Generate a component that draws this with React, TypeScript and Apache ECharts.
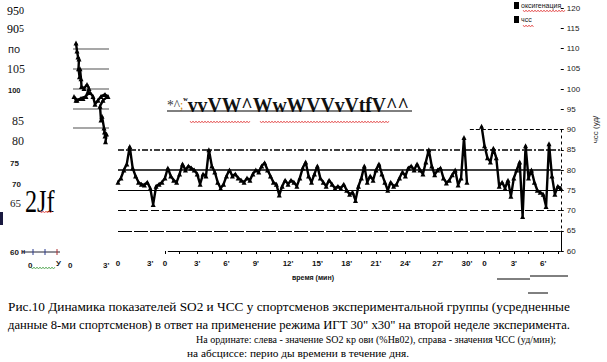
import { useEffect, useRef } from "react";
import * as echarts from "echarts";

// ЧСС (heart rate), one value per sample along the time axis
const hrValues: (number | null)[] = [
  77, 78, 80, 81.5, 85.8, 80.5, 78.5, 77, 76.5, 76.3,
  77, 75.5, 71.5, 76, 76.5, 77, 78, 80.5, 78.5, 77.5,
  77, 79, 81.5, 80, 81, 80.5, 80, 79, 76.5, 79,
  78.5, 85, 81, 79.5, 77, 75.5, 76.5, 78.5, 80, 78.5,
  79, 78, 77.5, 77, 78, 77.5, 79, 80, 79.5, 81,
  81.8, 80, 78.5, 77, 76.5, 73.8, 76, 77.5, 76.5, 77.5,
  77, 76, 78, 80.5, 82, 78.5, 77, 79, 81, 78,
  77, 76, 77.5, 76.5, 75.5, 76, 75.5, 76.5, 75, 74,
  74.5, 72.5, 76, 78, 81, 77, 78.5, 77.5, 80, 81.5,
  79, 77, 75, 77, 76, 76.5, 78, 79.5, 78.5, 80.5,
  81, 80, 81.5, 80, 79, 82, 85, 81, 78.8, 80,
  80.5, 78, 76.8, 77.5, 78.8, 80, 76.3, 78, 88, 77,
  null, null, null, null, 90.8, 86, 83, 82, 85.4, 83,
  76, 77, 75.5, 77.5, 73.5, 78, 80, 82, 68.5, 86,
  78, 80, 77, 75, 74.5, 74, 71, 86.5, 78.5, 74,
  76, 75.5,
];

// оксигенация (small inset trace, left)
const o2X = [3, 4, 5, 6, 5.5, 6.5, 7, 8, 8.5, 11, 14, 16, 13, 8, 3, 1, 4, 10, 17, 20, 22, 25, 28, 32, 35, 30, 27, 28, 29, 31, 31.5, 32, 33.5, 32.5];
const o2Y = [111.5, 109.5, 108, 107.5, 105, 103, 105, 102.5, 100.5, 100, 101, 100, 98, 97.5, 97, 98, 97, 97.5, 99, 98, 96, 97, 98, 98.5, 98, 97, 95.5, 92, 93, 90, 89, 88, 88.5, 86.5];

// x tick labels: [sample index, label]
const xTickLabels: [number, string][] = [
  [0, "0"], [11, "3'"], [16, "0"], [27, "3'"], [37, "6'"], [47, "9'"], [58, "12'"],
  [68, "15'"], [78, "18'"], [88, "21'"], [98, "24'"], [109, "27'"], [119, "30'"],
  [125, "0"], [135, "3'"], [145, "6'"],
];
const xTickMarks = [16, 21, 27, 32, 37, 42, 47, 52, 58, 63, 68, 73, 78, 83, 88, 93, 98, 103, 109, 114, 119, 125, 130, 135, 140, 145, 150];

// horizontal reference lines (уд/мин)
const refLines = [85, 80, 75, 70, 65];

// stray left-side labels in the scan
const leftLabels: [string, number, number, number, string, string][] = [
  ["по", 8, 49, 11, "Liberation Sans", "normal"],
  ["105", 7, 69, 12, "Liberation Serif", "normal"],
  ["100", 8, 90, 7.5, "Liberation Sans", "bold"],
  ["85", 12, 121, 12, "Liberation Serif", "normal"],
  ["80", 12, 141, 12, "Liberation Serif", "normal"],
  ["75", 10, 163, 8, "Liberation Sans", "bold"],
  ["70", 12, 184, 8, "Liberation Sans", "bold"],
  ["65", 10, 203, 11, "Liberation Serif", "normal"],
  ["60", 10, 252, 8, "Liberation Sans", "bold"],
  ["0", 28, 265, 8, "Liberation Sans", "bold"],
  ["У", 56, 263, 8, "Liberation Sans", "bold"],
  ["0", 68, 265, 8, "Liberation Sans", "bold"],
  ["3'", 103, 265, 8, "Liberation Sans", "bold"],
];

// caption: text, x, y, font size, horizontal scale
const captionLines: [string, number, number, number, number][] = [
  ["Рис.10 Динамика показателей SO2 и ЧСС у спортсменов экспериментальной группы (усредненные", 8, 306, 13.5, 0.985],
  ["данные 8-ми спортсменов) в ответ на применение режима ИГТ 30\" х30\" на второй неделе эксперимента.", 8, 324, 13.5, 0.935],
  ["На ординате: слева - значение SO2 кр ови (%Нв02), справа - значения ЧСС (уд/мин);", 196, 339, 10, 1],
  ["на абсциссе: перио ды времени в течение дня.", 187, 353, 11, 1.03],
];

function txt(text: string, x: number, y: number, o: any = {}) {
  return {
    type: "text", x, y, silent: true, z: 10, scaleX: o.sx ?? 1,
    style: {
      text, fill: o.fill ?? "#000", fontSize: o.size ?? 12,
      fontFamily: o.family ?? "Liberation Serif", fontWeight: o.weight ?? "normal",
      align: o.align ?? "left", verticalAlign: o.va ?? "middle", rich: o.rich,
    },
  };
}
function wave(x0: number, x1: number, y: number, color: string) {
  const pts: number[][] = [];
  let up = true;
  for (let x = x0; x <= x1; x += 1.5) { pts.push([x, y + (up ? -1 : 1)]); up = !up; }
  return { type: "polyline", silent: true, z: 10, shape: { points: pts }, style: { stroke: color, lineWidth: 0.7, fill: null } };
}
function seg(x1: number, y1: number, x2: number, y2: number, color = "#000", w = 1) {
  return { type: "line", silent: true, z: 10, shape: { x1, y1, x2, y2 }, style: { stroke: color, lineWidth: w } };
}

export default function App() {
  const ref = useRef<HTMLDivElement>(null);
  useEffect(() => {
    if (!ref.current) return;
    const chart = echarts.init(ref.current, null, { renderer: "svg" });
    const labelMap = new Map<number, string>(xTickLabels);
    const tickSet = new Set<number>(xTickMarks);
    const categories = hrValues.map((_, i) => String(i));
    const o2Data = o2X.map((x, i) => [x, o2Y[i]]);
    const last = hrValues.length - 1;

    const graphics: any[] = [
      txt("{a|95}{b|0}", 7, 11, { rich: { a: { fontSize: 12, fontFamily: "Liberation Serif" }, b: { fontSize: 10, fontFamily: "Liberation Serif", verticalAlign: "top" } } }),
      txt("{a|90}{b|5}", 7, 29, { rich: { a: { fontSize: 12, fontFamily: "Liberation Serif" }, b: { fontSize: 10, fontFamily: "Liberation Serif", verticalAlign: "top" } } }),
      ...leftLabels.map(([t, x, y, s, f, w]) => txt(t, x, y, { size: s, family: f, weight: w, fill: "#1a1a1a" })),
      txt("2Jf", 25, 201, { size: 31, sx: 0.78 }),
      { type: "rect", silent: true, shape: { x: 0, y: 212, width: 3, height: 13 }, style: { fill: "#1a1a40" } },
      seg(22, 252, 60, 252, "#223", 1),
      txt("н", 21, 251, { size: 7, family: "Liberation Sans", weight: "bold", fill: "#223" }),
      seg(33, 249, 33, 255, "#2a3a90", 1), seg(45, 249, 45, 255, "#2a3a90", 1), seg(57, 249, 57, 255, "#b03030", 1),
      wave(31, 56, 268, "#3a9a3a"),
      txt("{a|*^}{b|;}{c|ʷ}{d|vvVW^WwWVVvVtfV^^}", 167, 105, {
        sx: 0.96,
        rich: {
          a: { fontSize: 14, fontFamily: "Liberation Serif", fill: "#333" },
          b: { fontSize: 12, fontFamily: "Liberation Serif", fill: "#d08000" },
          c: { fontSize: 11, fontFamily: "Liberation Serif", fontWeight: "bold", verticalAlign: "top" },
          d: { fontSize: 20.5, fontFamily: "Liberation Serif", fontWeight: "bold", fill: "#111" },
        },
      }),
      seg(167, 111, 412, 111, "#000", 1),
      wave(190, 250, 122, "#e03030"),
      wave(260, 390, 122, "#e03030"),
      wave(40, 52, 212, "#e03030"),
      wave(523, 566, 11, "#e03030"),
      wave(523, 534, 26, "#e03030"),
      txt("время (мин)", 313, 277, { size: 7, family: "Liberation Sans", weight: "bold", align: "center", fill: "#111" }),
      seg(497, 279, 530, 279, "#000", 1), seg(530, 276, 568, 276, "#000", 1),
      seg(528, 293, 548, 293, "#000", 1),
      ...captionLines.map(([t, x, y, s, sx]) => txt(t, x, y, { size: s, sx })),
    ];

    chart.setOption({
      animation: false,
      backgroundColor: "#fff",
      legend: {
        data: ["оксигенация", "чсс"], orient: "vertical", left: 514, top: 2, padding: 0,
        icon: "rect", itemWidth: 5, itemHeight: 7, itemGap: 7,
        textStyle: { fontSize: 7, color: "#111", fontFamily: "Liberation Sans", padding: [0, 0, 0, -3] },
      },
      grid: [
        { left: 118, right: 35, top: 8, bottom: 111 },
        { left: 73, width: 36, top: 49, height: 79 },
      ],
      xAxis: [
        {
          type: "category", gridIndex: 0, data: categories, boundaryGap: false,
          axisLine: { show: false },
          axisTick: { show: true, length: 3, interval: (i: number) => tickSet.has(i), lineStyle: { color: "#000" } },
          axisLabel: {
            interval: (i: number) => labelMap.has(i),
            formatter: (_v: string, i: number) => labelMap.get(i) ?? "",
            fontSize: 8, fontWeight: "bold", color: "#111", fontFamily: "Liberation Sans", margin: 8,
          },
          splitLine: { show: false },
        },
        { type: "value", gridIndex: 1, min: 0, max: 36, show: false },
      ],
      yAxis: [
        {
          type: "value", gridIndex: 0, position: "right", min: 60, max: 120, interval: 5,
          axisLine: { show: false }, axisTick: { show: true, length: 3, lineStyle: { color: "#000" } },
          axisLabel: { fontSize: 8, color: "#1a1a1a", fontFamily: "Liberation Sans", margin: 6 },
          splitLine: { show: false },
          name: "чсс (уд/", nameLocation: "middle", nameGap: 24,
          nameTextStyle: { fontSize: 8, color: "#222", fontFamily: "Liberation Sans" },
        },
        {
          type: "value", gridIndex: 1, min: 90, max: 110, interval: 5,
          axisLine: { show: false }, axisTick: { show: false }, axisLabel: { show: false },
          splitLine: { show: true, lineStyle: { color: "#8a8a8a", width: 1.5 } },
        },
      ],
      graphic: graphics,
      series: [
        {
          name: "оксигенация", type: "line", xAxisIndex: 1, yAxisIndex: 1, data: o2Data, clip: false,
          symbol: "triangle", symbolSize: 5, showAllSymbol: true,
          lineStyle: { color: "#000", width: 2.4 }, itemStyle: { color: "#000" },
        },
        {
          name: "чсс", type: "line", xAxisIndex: 0, yAxisIndex: 0, data: hrValues, connectNulls: false,
          symbol: "triangle", symbolSize: 5, showAllSymbol: true,
          lineStyle: { color: "#000", width: 2.4 }, itemStyle: { color: "#000" },
          z: 3,
          markLine: {
            silent: true, symbol: "none", label: { show: false }, z: 2,
            data: [
              { yAxis: refLines[0], lineStyle: { type: [6, 2, 2, 2], width: 1.5, color: "#000" } },
              { yAxis: refLines[1], lineStyle: { type: "solid", width: 1.5, color: "#000" } },
              { yAxis: refLines[2], lineStyle: { type: "solid", width: 1.2, color: "#000" } },
              { yAxis: refLines[3], lineStyle: { type: [8, 3], width: 1.2, color: "#000" } },
              { yAxis: refLines[4], lineStyle: { type: [14, 2], width: 1.2, color: "#000" } },
              [{ coord: [120, 90], lineStyle: { type: [4, 2], width: 1, color: "#000" } }, { coord: [last, 90] }],
              [{ coord: [last, 90], lineStyle: { type: [3, 3], width: 1, color: "#000" } }, { coord: [last, 65] }],
              [{ coord: [last, 65], lineStyle: { type: "solid", width: 1, color: "#000" } }, { coord: [last, 60] }],
              [{ coord: [17, 60], lineStyle: { type: "solid", width: 1, color: "#000" } }, { coord: [last, 60] }],
            ],
          },
        },
      ],
    });
    return () => chart.dispose();
  }, []);
  return <div ref={ref} style={{ position: "fixed", left: 0, top: 0, width: 607, height: 362, background: "#fff" }} />;
}
